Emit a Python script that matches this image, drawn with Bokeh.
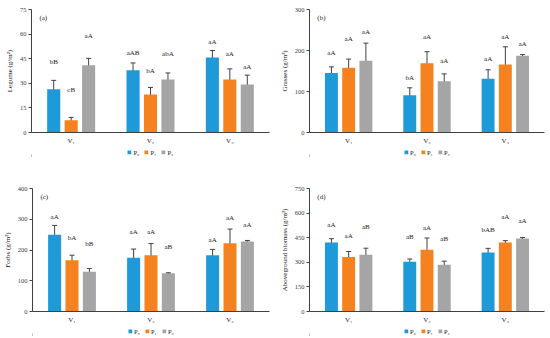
from bokeh.plotting import figure
from bokeh.layouts import column, row
from bokeh.models import ColumnDataSource, Whisker, TeeHead, FixedTicker, Legend, LegendItem, Range1d
from bokeh.core.properties import value
from bokeh.embed import file_html
from bokeh.resources import INLINE

FONT = "Liberation Serif"

categories = ["V₁", "V₂", "V₃"]
treatments = ["P₀", "P₁", "P₂"]
colors = ["#1f9ad8", "#f5821f", "#a5a5a5"]

# (a) Legume
legume_mean = [[26.3, 38.0, 45.7], [7.5, 23.2, 32.3], [41.0, 32.3, 29.3]]
legume_err = [[5.5, 4.4, 4.3], [1.7, 4.3, 6.5], [4.2, 4.0, 5.7]]
legume_letters = [["bB", "aAB", "aA"], ["cB", "bA", "aA"], ["aA", "abA", "aA"]]
legume_label_y = [[43, 48.7, 55.2], [25.9, 37.6, 48.1], [58.6, 47.7, 40]]
legume_ticks = [0, 15, 30, 45, 60, 75]

# (b) Grasses
grass_mean = [[145, 91, 131], [158, 169, 166], [175, 125, 187]]
grass_err = [[15, 18, 22], [21, 28, 43], [43, 18, 3]]
grass_letters = [["aA", "bA", "aA"], ["aA", "aA", "aA"], ["aA", "aA", "aA"]]
grass_label_y = [[195, 133, 179], [227, 232, 234], [245, 175, 216]]
grass_ticks = [0, 100, 200, 300]

# (c) Forbs
forbs_mean = [[250, 175, 183], [167, 183, 222], [129, 124, 228]]
forbs_err = [[30, 28, 19], [16, 38, 46], [11, 2, 3]]
forbs_letters = [["aA", "aA", "aA"], ["bA", "aA", "aA"], ["bB", "aB", "aA"]]
forbs_label_y = [[307, 258, 234], [240, 258, 303], [221, 209, 282]]
forbs_ticks = [0, 100, 200, 300, 400]

# (d) Aboveground biomass
bio_mean = [[420, 303, 360], [333, 376, 420], [346, 285, 445]]
bio_err = [[24, 17, 25], [33, 72, 12], [40, 22, 6]]
bio_letters = [["aA", "aB", "bAB"], ["aA", "aA", "aA"], ["aB", "aB", "aA"]]
bio_label_y = [[528, 455, 495], [461, 511, 576], [515, 441, 552]]
bio_ticks = [0, 150, 300, 450, 600, 750]

AX = "#404040"
TXT = "#222222"


def make_panel(tag, ylabel, yticks, means, errs, letters, label_y,
               width, height, bl, br, bt, bb):
    ymax = yticks[-1]
    p = figure(width=width, height=height, x_range=Range1d(0, 3), y_range=Range1d(0, ymax),
               output_backend="svg", toolbar_location=None,
               min_border_left=bl, min_border_right=br, min_border_top=bt, min_border_bottom=bb)
    p.outline_line_color = None
    p.grid.visible = False

    n = len(categories)
    for j in range(len(treatments)):
        xs = [i + 0.5 + (j - 1) * 0.22 for i in range(n)]
        src = ColumnDataSource(dict(
            x=xs, top=means[j],
            lo=[m - e for m, e in zip(means[j], errs[j])],
            hi=[m + e for m, e in zip(means[j], errs[j])],
            lab=letters[j], ly=label_y[j]))
        p.vbar(x="x", top="top", bottom=0, width=0.165, source=src,
               fill_color=colors[j], line_color=None)
        w = Whisker(base="x", upper="hi", lower="lo", source=src,
                    line_color=AX, line_width=1,
                    upper_head=TeeHead(size=5, line_color=AX, line_width=1),
                    lower_head=TeeHead(size=5, line_color=AX, line_width=1))
        p.add_layout(w)
        p.text(x="x", y="ly", text="lab", source=src, text_align="center",
               text_baseline="middle", text_font=value(FONT), text_font_size="7px",
               text_color=TXT)

    p.text(x=[0.1], y=[ymax * 0.93], text=[tag], text_align="left", text_baseline="middle",
           text_font=value(FONT), text_font_size="7px", text_color=TXT)

    # y axis
    p.yaxis.ticker = FixedTicker(ticks=yticks)
    p.yaxis.axis_label = ylabel
    p.yaxis.axis_label_text_font = FONT
    p.yaxis.axis_label_text_font_style = "normal"
    p.yaxis.axis_label_text_font_size = "7px"
    p.yaxis.axis_label_text_color = TXT
    p.yaxis.axis_label_standoff = 3
    p.yaxis.major_label_text_font = FONT
    p.yaxis.major_label_text_font_size = "6.5px"
    p.yaxis.major_label_text_color = AX
    p.yaxis.major_label_standoff = 2
    p.yaxis.major_tick_out = 3
    p.yaxis.major_tick_in = 0
    p.yaxis.minor_tick_out = 0
    p.yaxis.minor_tick_in = 0
    p.yaxis.axis_line_color = AX
    p.yaxis.major_tick_line_color = AX

    # x axis
    ticks = [i + 0.5 for i in range(n)]
    p.xaxis.ticker = FixedTicker(ticks=ticks)
    p.xaxis.major_label_overrides = {t: c for t, c in zip(ticks, categories)}
    p.xaxis.major_label_text_font = FONT
    p.xaxis.major_label_text_font_size = "7px"
    p.xaxis.major_label_text_color = TXT
    p.xaxis.major_label_standoff = 4
    p.xaxis.major_tick_out = 0
    p.xaxis.major_tick_in = 0
    p.xaxis.minor_tick_out = 0
    p.xaxis.minor_tick_in = 0
    p.xaxis.axis_line_color = AX
    return p


def make_legend_strip(width, height, bl, br):
    s = figure(width=width, height=height, x_range=Range1d(0, 3), y_range=Range1d(0, 1),
               output_backend="svg", toolbar_location=None, x_axis_type=None, y_axis_type=None,
               min_border_left=bl, min_border_right=br, min_border_top=0, min_border_bottom=0)
    s.outline_line_color = None
    s.grid.visible = False
    items = []
    for j in range(len(treatments)):
        # placeholder renderer outside the visible range: only its legend swatch is shown
        src = ColumnDataSource(dict(x=[-10.0], top=[0.5]))
        r = s.vbar(x="x", top="top", width=0.1, source=src, fill_color=colors[j], line_color=None)
        items.append(LegendItem(label=treatments[j], renderers=[r]))
    legend = Legend(items=items, orientation="horizontal", location="center",
                    glyph_width=5, glyph_height=5, label_text_font=FONT,
                    label_text_font_size="6.5px", label_text_color=TXT,
                    label_height=7, label_width=6, label_standoff=2, spacing=4,
                    padding=0, margin=0, border_line_color=None, background_fill_alpha=0)
    s.add_layout(legend)
    return s


pa = make_panel("(a)", "Legume (g/m²)", legume_ticks, legume_mean, legume_err, legume_letters,
                legume_label_y, 277, 147, 31, 8, 9, 14)
pb = make_panel("(b)", "Grasses (g/m²)", grass_ticks, grass_mean, grass_err, grass_letters,
                grass_label_y, 271, 147, 31, 4, 9, 14)
pc = make_panel("(c)", "Forbs (g/m²)", forbs_ticks, forbs_mean, forbs_err, forbs_letters,
                forbs_label_y, 277, 169, 31, 8, 31, 14)
pd = make_panel("(d)", "Aboveground biomass (g/m²)", bio_ticks, bio_mean, bio_err, bio_letters,
                bio_label_y, 271, 169, 31, 4, 31, 14)

la = make_legend_strip(277, 10, 31, 8)
lb = make_legend_strip(271, 10, 31, 4)
lc = make_legend_strip(277, 10, 31, 8)
ld = make_legend_strip(271, 10, 31, 4)

layout = column(row(column(pa, la), column(pb, lb)),
                row(column(pc, lc), column(pd, ld)))

open("out.html", "w").write(file_html(layout, INLINE))
